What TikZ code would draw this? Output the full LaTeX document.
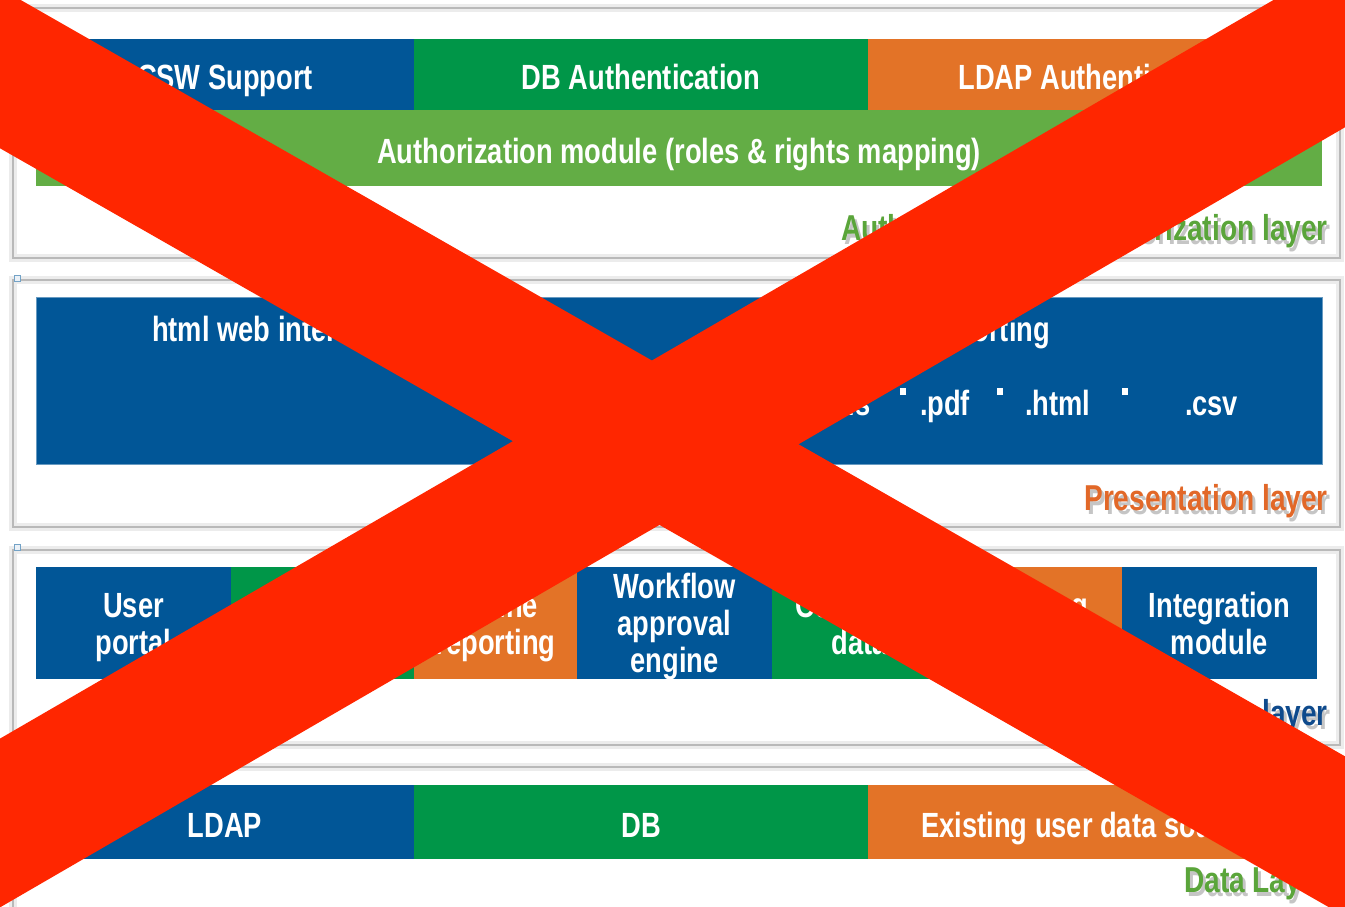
\documentclass[tikz,border=0pt]{standalone}
\usepackage{fontspec}
\newfontfamily\etroite[FakeStretch=0.78]{Liberation Sans}
\definecolor{bleuA}{RGB}{1,86,151}
\definecolor{vertA}{RGB}{0,150,72}
\definecolor{orangeA}{RGB}{227,115,39}
\definecolor{vertB}{RGB}{99,173,69}
\definecolor{vertL}{RGB}{90,165,58}
\definecolor{orangeL}{RGB}{226,104,40}
\definecolor{bleuL}{RGB}{14,74,140}
\definecolor{rougeX}{RGB}{255,38,0}

\begin{document}
\begin{tikzpicture}[x=1pt,y=-1pt,
  boite/.style={inner sep=0pt, outer sep=0pt, text=white, align=center,
    font=\etroite\bfseries\fontsize{35}{37}\selectfont},
  uneligne/.style={text height=31pt, text depth=0pt},
  cadre/.style={draw=gray!55, line width=2.5pt, preaction={draw=gray!15, line width=8pt}},
  couche/.style={anchor=base east, inner sep=0pt, font=\etroite\bfseries\fontsize{36}{38}\selectfont},
  ombre/.style={couche, text=black!50, opacity=0.45},
  poignee/.style={draw=bleuA!55, fill=bleuA!8, line width=1pt},
  croix/.style={draw=rougeX, line width=#1},
  croix/.default=135pt]

\useasboundingbox[fill=white] (0,0) rectangle (1345,907);

% Cadres des couches
  \draw[cadre] (13,8) rectangle (1340,258);
  \draw[cadre] (13,280) rectangle (1340,527);
  \draw[cadre] (13,550) rectangle (1340,745);
  \draw[cadre] (13,767) rectangle (1340,950);
  \draw[poignee] (14,275) rectangle (20,281);
  \draw[poignee] (14,544) rectangle (20,550);

% Couche authentification
  \foreach \xa/\xb/\coul/\nom/\texte in {36/414/bleuA/csw/CSW Support,
      414/868/vertA/dbauth/DB Authentication, 868/1322/orangeA/ldapauth/LDAP Authentication}
  \node[boite, uneligne, fill=\coul, minimum width={\xb-\xa}, minimum height=71]
      (\nom) at ({(\xa+\xb)/2},74.5) {\texte};
  \node[boite, uneligne, fill=vertB, minimum width=1286, minimum height=76]
      (authz) at (679,148) {Authorization module (roles \& rights mapping)};
  \node[ombre] (authlab-o) at (1331,244) {Authentication \& Authorization layer};
  \node[couche, text=vertL] (authlab) at (1328,240) {Authentication \& Authorization layer};

% Couche presentation
  \node[fill=bleuA, draw=bleuA!60!white, line width=0.8pt, inner sep=0pt,
      minimum width=1286, minimum height=167] (pres) at (679,380.5) {};
  \node[boite, anchor=base] (html) at (272,341) {html web interface};
  \node[boite, anchor=base east] (rapport) at (1050,341) {Multi-format reporting};
  \foreach \x/\nom/\fmt in {825/xls/.xls, 920/pdf/.pdf, 1025/htm/.html, 1185/csv/.csv}
  \node[boite, anchor=base west] (\nom) at (\x,415) {\fmt};
  \foreach \x in {900,997,1122}
  \fill[white] (\x,388) rectangle (\x+6,395);
  \node[ombre] (preslab-o) at (1331,514) {Presentation layer};
  \node[couche, text=orangeL] (preslab) at (1328,510) {Presentation layer};

% Couche metier
  \foreach \xa/\xb/\coul/\nom/\haut/\texte in {36/231/bleuA/portail/62/User\\portal,
      231/414/vertA/admin/62/Admin\\portal, 414/577/orangeA/enligne/62/Online\\reporting,
      577/772/bleuA/workflow/99/Workflow\\approval\\engine, 772/947/vertA/client/62/Customer\\data,
      947/1122/orangeA/journal/62/Logging\\\& audit, 1122/1317/bleuA/integration/62/Integration\\module}
  \node[boite, fill=\coul, minimum width={\xb-\xa}, minimum height=112,
      text height=\haut pt, text depth=0pt] (\nom) at ({(\xa+\xb)/2},623) {\texte};
  \node[ombre] (metlab-o) at (1331,729) {Business layer};
  \node[couche, text=bleuL] (metlab) at (1328,725) {Business layer};

% Couche donnees
  \foreach \xa/\xb/\coul/\nom/\texte in {36/414/bleuA/ldap/LDAP,
      414/868/vertA/db/DB, 868/1322/orangeA/existant/Existing user data sources}
  \node[boite, uneligne, fill=\coul, minimum width={\xb-\xa}, minimum height=74]
      (\nom) at ({(\xa+\xb)/2},822) {\texte};
  \node[ombre] (donlab-o) at (1331,896) {Data Layer};
  \node[couche, text=vertL] (donlab) at (1328,892) {Data Layer};

% Croix rouge
  \draw[croix=139pt] (-200,-46) -- (1600,982);
  \draw[croix=146pt] (-200,939) -- (1600,-105);

\end{tikzpicture}
\end{document}
